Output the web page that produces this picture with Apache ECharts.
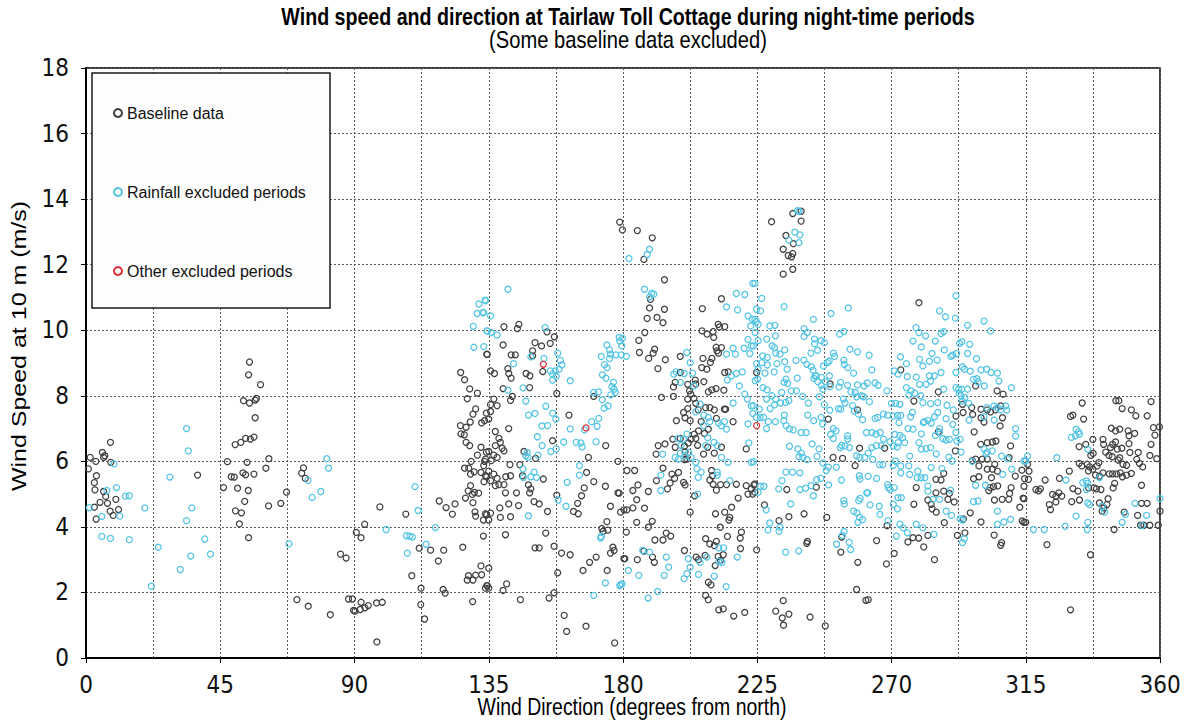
<!DOCTYPE html>
<html>
<head>
<meta charset="utf-8">
<script src="https://cdn.jsdelivr.net/npm/echarts@6/dist/echarts.min.js"></script>
<style>
html,body{margin:0;padding:0;background:#fff;}
#chart{width:1190px;height:721px;}
</style>
</head>
<body>
<div id="chart"></div>
<script>
// Night-time wind observations: [direction (deg from north), speed at 10 m (m/s)]
const seriesNames = ['Baseline data', 'Rainfall excluded periods', 'Other excluded periods'];
const xTicks = [0, 45, 90, 135, 180, 225, 270, 315, 360];
const yTicks = [0, 2, 4, 6, 8, 10, 12, 14, 16, 18];

const baseline = [
[8.2,6.58],[1.4,6.12],[3.3,6.0],[5.5,6.27],[6.3,6.17],[5.9,6.12],[8.3,5.97],[0.8,5.77],[3.5,5.56],[2.8,5.35],[3.0,5.13],[5.9,5.08],[6.6,4.93],[10.0,4.84],[4.7,4.75],[7.2,4.72],[2.8,4.6],[8.1,4.48],[10.9,4.53],[9.1,4.35],[3.4,4.24],[37.4,5.58],
[54.8,9.03],[54.5,8.64],[58.5,8.34],[52.8,7.85],[54.8,7.78],[56.7,7.87],[57.1,7.92],[56.7,7.33],[50.0,6.51],[51.9,6.58],[53.5,6.70],[55.1,6.68],[56.3,6.74],[47.4,5.99],[54.0,5.97],[61.3,6.08],[60.3,5.79],[48.7,5.53],[49.7,5.52],[52.6,5.65],[53.5,5.59],[56.3,5.61],[46.1,5.2],[50.8,5.18],[54.4,5.11],[53.2,4.78],[50.1,4.49],[52.1,4.43],[51.4,4.09],[54.5,3.67],[67.2,5.06],[65.3,4.72],[61.2,4.64],[72.9,5.8],[72.3,5.64],[73.5,5.48],[85.3,3.17],[87.2,3.05],[70.7,1.78],[74.5,1.58],[81.9,1.32],[88.0,1.8],[89.3,1.8],[89.7,1.45],
[90.2,1.43],[92.2,1.70],[91.9,1.48],[93.5,1.53],[94.6,1.6],[97.4,1.68],[99.3,1.70],[97.5,0.49],[112.2,1.63],[113.5,1.19],[112.3,2.13],[119.7,2.09],[120.4,1.98],[129.6,1.72],[90.6,3.83],[92.2,3.67],[93.4,4.08],[98.5,4.61],[107.2,4.39],[111.7,3.35],[115.5,3.29],[118.1,2.96],[119.9,3.29],[109.2,2.51],[118.4,4.79],[120.7,4.59],[123.7,4.70],[122.8,4.39],[126.3,3.38],[127.2,4.88],[128.1,5.10],[128.9,5.26],[129.5,4.99],[130.2,5.05],[131.6,5.03],[129.7,4.74],[130.4,4.46],[130.6,4.33],[133.2,4.21],[134.3,4.37],[133.2,3.72],[127.8,2.38],[128.2,2.51],[129.7,2.38],[130.6,2.53],[132.4,2.81],[132.6,2.54],[133.9,2.13],[134.5,2.21],[125.6,8.71],[126.9,8.49],[128.6,8.21],[127.8,7.91],[131.2,8.08],[130.6,7.6],[129.7,7.44],[128.8,7.2],[125.5,7.09],[127.4,7.04],[125.7,6.84],[126.8,6.81],[127.4,6.58],[128.6,6.48],[132.4,6.43],[131.2,6.19],[129.1,6.0],[133.6,6.0],[132.4,5.66],[126.9,5.79],[128.3,5.79],[128.9,5.61],[130.1,5.68],[134.3,5.53],[133.4,5.38],[132.6,7.17],[133.6,7.24],[134.4,9.26],[134.2,7.47],[134.2,6.28],
[178.9,13.3],[179.8,13.06],[140.1,10.11],[144.6,10.05],[145.1,10.18],[139.8,9.55],[142.5,9.25],[143.9,9.25],[135.6,8.76],[136.9,8.68],[141.4,8.83],[141.7,8.68],[142.5,8.54],[134.4,9.27],[150.5,9.62],[152.7,9.52],[149.7,9.37],[149.7,9.22],[155.6,9.6],[157.0,9.8],[154.5,9.95],[153.1,8.74],[147.5,8.68],[148.8,8.61],[148.7,8.25],[139.8,8.22],[157.8,8.07],[136.7,7.9],[135.6,7.73],[137.8,7.7],[142.3,7.86],[142.9,7.98],[161.9,7.41],[135.6,7.52],[135.0,7.29],[141.7,7.0],[137.2,6.91],[138.4,6.7],[138.9,6.58],[137.2,6.48],[139.5,6.4],[140.1,6.32],[135.0,6.3],[136.7,6.19],[137.8,6.12],[133.9,6.07],[135.8,6.02],[156.4,6.63],[150.7,6.09],[146.8,6.3],[142.1,5.9],[145.4,5.9],[133.3,5.87],[135.0,5.7],[133.9,5.56],[136.7,5.61],[135.6,5.41],[137.8,5.48],[137.2,5.26],[138.4,5.29],[140.1,5.29],[140.7,5.53],[142.3,5.56],[146.3,5.56],[153.3,5.46],[148.3,5.28],[149.1,5.16],[148.7,5.04],[140.6,5.04],[144.3,5.04],[150.2,4.77],[151.9,4.7],[141.7,4.7],[145.0,4.65],[138.7,4.58],[154.7,4.47],[157.8,4.97],[133.9,4.4],[135.6,4.42],[135.0,4.21],[138.9,4.29],[142.3,4.31],[163.4,4.47],[165.0,4.4],[164.8,4.72],[166.1,4.95],[167.0,5.19],[167.8,5.66],[170.2,5.38],[168.4,6.12],[174.2,6.48],[174.1,5.24],[178.3,6.0],[178.3,5.04],[175.8,4.63],[180.3,4.52],[170.2,7.98],[154.1,3.81],[150.5,3.36],[151.9,3.36],[156.9,3.41],[159.4,3.2],[162.3,3.15],[158.1,2.6],[166.6,2.67],[168.8,2.92],[171.0,3.08],[174.7,2.67],[173.3,3.86],[172.9,3.95],[174.9,3.9],[174.6,4.16],[176.6,3.38],[177.0,3.28],[175.8,3.2],[180.6,3.03],[140.6,3.76],[135.0,2.74],[134.4,2.21],[135.0,2.13],[141.0,2.26],[139.8,2.06],[145.6,1.78],[155.2,1.83],[156.9,1.99],[160.3,1.3],[161.1,0.81],[167.6,0.97],[177.2,0.46],
[184.8,13.04],[189.8,12.82],[187.0,12.16],[193.9,11.54],[189.2,10.94],[188.9,10.68],[193.9,10.64],[188.1,10.36],[191.4,10.39],[193.4,10.23],[206.6,10.66],[213.0,10.96],[187.3,9.93],[185.3,9.69],[185.5,9.32],[190.1,9.3],[190.6,9.42],[188.6,9.14],[191.7,8.83],[194.2,9.1],[199.2,9.2],[206.5,9.98],[208.2,9.88],[210.2,9.96],[211.9,10.18],[214.1,10.11],[212.3,10.1],[210.4,9.78],[211.2,9.48],[212.0,9.3],[211.5,9.37],[213.0,9.47],[206.8,9.14],[209.8,9.14],[209.3,9.02],[206.4,8.86],[208.1,8.81],[199.2,8.71],[214.1,8.71],[215.3,8.73],[197.5,8.41],[196.9,8.27],[201.7,8.35],[204.2,8.48],[204.4,8.36],[207.1,8.43],[211.2,8.22],[213.8,8.17],[209.8,8.18],[208.6,8.12],[202.3,8.15],[202.7,8.05],[201.7,7.9],[203.8,7.92],[204.4,7.77],[192.9,7.95],[196.9,7.98],[205.2,7.57],[207.7,7.64],[209.1,7.64],[210.6,7.57],[214.0,7.59],[214.4,7.59],[200.3,7.49],[201.7,7.61],[200.8,7.33],[197.9,7.24],[202.5,7.24],[206.2,7.21],[205.3,6.93],[207.3,6.85],[208.6,6.98],[211.3,7.31],[216.9,7.21],[203.9,6.83],[204.4,6.7],[202.8,6.68],[205.0,6.49],[201.9,6.56],[200.6,6.46],[200.8,6.29],[196.7,6.68],[199.2,6.7],[197.5,6.43],[194.1,6.53],[191.8,6.48],[191.1,6.22],[213.0,6.43],[210.6,6.25],[208.4,6.43],[207.0,6.22],[221.3,6.38],[200.6,6.05],[201.4,6.07],[181.3,5.72],[183.9,5.72],[193.4,5.79],[196.4,5.61],[198.6,5.66],[197.3,5.48],[195.8,5.34],[194.9,5.16],[191.2,5.41],[185.0,5.28],[183.3,5.11],[178.7,5.03],[184.6,4.83],[188.5,5.08],[200.3,5.36],[200.8,5.28],[204.0,4.95],[209.7,5.72],[210.0,5.56],[209.1,5.43],[210.2,5.3],[211.3,5.12],[212.7,5.29],[214.7,5.29],[218.0,5.3],[221.3,5.26],[223.0,5.16],[223.9,5.28],[221.9,5.0],[223.5,5.0],[218.6,4.88],[216.4,4.6],[214.1,4.45],[211.0,4.4],[202.5,4.45],[181.3,4.52],[183.3,4.58],[187.2,4.57],[179.2,4.45],[184.6,4.14],[188.5,3.99],[189.8,4.17],[215.8,4.29],[215.5,4.21],[212.6,3.99],[181.1,3.84],[194.5,3.81],[196.0,3.72],[193.4,3.6],[190.7,3.6],[219.7,3.84],[219.3,3.66],[215.0,3.71],[207.7,3.64],[211.3,3.56],[209.1,3.48],[210.6,3.43],[200.6,3.28],[187.0,3.26],[184.8,3.0],[180.3,3.03],[189.9,3.08],[190.5,2.92],[204.5,3.08],[205.3,3.0],[207.5,3.13],[211.9,3.1],[213.6,3.15],[212.7,2.98],[219.4,3.34],[210.9,2.82],[208.6,2.31],[209.5,2.23],[207.7,1.91],[208.6,1.78],[212.1,1.47],[213.6,1.5],[217.1,1.28],[220.8,1.39],
[229.8,13.31],[236.9,13.56],[239.7,13.63],[239.7,13.33],[234.6,12.89],[237.1,12.64],[233.7,12.47],[235.4,12.28],[236.5,12.24],[236.9,12.34],[233.7,11.71],[236.9,11.86],[224.8,8.71],[249.4,8.36],[248.8,7.29],[258.6,7.57],[259.3,6.4],[267.7,6.4],[250.4,6.12],[253.6,6.09],[257.8,5.87],[224.2,5.31],[224.2,5.06],[227.4,4.67],[234.9,5.14],[244.8,5.21],[232.3,4.19],[235.6,4.31],[240.7,4.4],[248.3,4.29],[241.8,3.56],[241.6,3.5],[253.0,3.23],[253.3,3.69],[258.7,2.92],[265.0,3.58],[268.3,2.87],[268.5,4.04],[224.8,3.3],[258.3,2.09],[261.4,1.76],[262.2,1.78],[233.7,1.75],[231.2,1.43],[235.6,1.34],[233.4,1.22],[233.8,1.0],[242.7,1.25],[247.8,0.98],
[279.2,10.84],[273.1,8.79],[285.7,8.12],[277.5,7.84],[298.2,8.3],[305.4,8.15],[307.4,8.05],[293.8,7.74],[291.6,7.38],[294.0,7.49],[296.9,7.64],[297.2,7.43],[300.0,7.59],[300.0,7.33],[301.0,7.2],[302.1,7.57],[303.2,7.51],[304.9,7.57],[306.6,7.69],[307.2,7.33],[306.4,7.08],[297.7,6.9],[299.9,6.52],[302.1,6.57],[303.8,6.59],[305.0,6.62],[309.9,6.47],[309.4,6.11],[285.7,6.9],[291.4,6.32],[297.1,6.02],[298.2,6.07],[299.3,5.86],[300.4,6.07],[302.1,6.07],[302.1,5.76],[303.8,5.76],[304.6,5.91],[305.5,5.7],[303.5,5.5],[297.5,5.47],[299.3,5.53],[303.1,5.2],[304.2,5.23],[305.6,5.25],[302.6,5.11],[304.5,4.82],[307.1,4.84],[309.3,4.84],[309.6,5.02],[310.1,5.2],[311.5,5.55],[313.7,5.73],[314.6,5.47],[314.1,4.88],[313.0,4.6],[313.8,4.18],[300.0,4.15],[304.4,3.75],[306.9,3.52],[306.6,3.44],[284.9,5.45],[286.6,5.43],[287.5,5.63],[278.3,5.2],[284.9,5.04],[287.5,5.09],[289.4,5.02],[288.9,4.84],[291.0,4.76],[282.2,4.82],[283.3,4.69],[283.6,4.55],[285.0,4.45],[277.5,4.69],[296.4,4.43],[294.1,4.24],[287.7,4.13],[292.1,3.74],[294.6,3.82],[282.2,3.74],[275.5,3.54],[277.2,3.67],[279.1,3.66],[280.8,3.39],[284.4,3.0],[270.9,3.19],
[333.9,7.78],[345.2,7.85],[346.2,7.85],[357.0,7.82],[330.0,7.37],[330.8,7.41],[334.4,7.29],[347.3,7.61],[350.4,7.57],[351.9,7.39],[355.7,7.39],[343.7,7.01],[345.1,6.93],[346.5,6.98],[349.3,6.93],[349.6,6.78],[351.5,6.85],[358.3,6.8],[357.8,7.03],[359.8,7.05],[337.5,6.67],[340.9,6.67],[341.1,6.52],[344.1,6.52],[345.1,6.59],[343.4,6.42],[345.7,6.37],[347.2,6.4],[349.6,6.54],[357.0,6.52],[332.9,6.45],[335.1,6.52],[336.8,6.18],[337.6,6.24],[341.8,6.28],[342.9,6.18],[344.0,6.14],[346.0,6.04],[346.5,6.11],[347.6,5.91],[348.8,5.88],[349.9,6.27],[352.7,6.27],[356.6,6.18],[358.9,6.08],[352.2,6.06],[353.1,5.94],[354.2,5.83],[332.9,5.94],[333.8,5.86],[335.6,5.91],[336.4,5.83],[337.5,5.76],[338.9,5.86],[339.5,5.96],[336.0,5.71],[338.4,5.58],[339.7,5.55],[340.9,5.65],[343.0,5.62],[344.1,5.62],[345.4,5.62],[346.7,5.65],[347.4,5.53],[348.8,5.58],[350.4,5.63],[344.8,5.33],[344.3,5.19],[338.7,5.16],[340.2,5.14],[337.9,5.19],[336.1,5.19],[332.5,5.09],[330.8,5.17],[329.6,5.7],[326.3,5.48],[321.5,5.43],[318.4,5.14],[319.3,5.1],[326.1,5.04],[324.0,4.99],[325.1,4.94],[327.1,4.94],[353.8,5.27],[325.1,4.76],[322.9,4.68],[323.3,4.53],[330.4,4.77],[333.0,4.82],[339.7,4.73],[342.6,4.86],[342.2,4.68],[341.2,4.58],[340.6,4.48],[348.0,4.45],[353.8,4.72],[355.7,4.72],[360.0,4.48],[352.5,4.35],[353.5,4.05],[354.6,4.05],[356.6,4.05],[359.4,4.05],[344.6,3.92],[314.4,4.14],[315.0,4.14],[322.1,3.46],[336.7,3.15],[330.0,1.47],[316.1,5.7],[315.6,5.91],[314.4,5.24],[319.9,5.16],[314.4,4.86],[315.9,5.45]
];

const rainfall = [
[9.4,5.92],[7.0,5.11],[10.2,5.2],[13.2,4.94],[14.5,4.95],[1.1,4.59],[5.3,4.32],[11.3,4.33],[19.7,4.58],[5.3,3.71],[8.2,3.65],[14.5,3.61],[33.7,7.0],[34.3,6.32],[28.1,5.52],[35.5,4.58],[33.7,4.19],[39.8,3.63],[24.2,3.38],[35.1,3.11],[41.7,3.17],[31.6,2.70],[21.9,2.19],
[80.7,6.08],[81.3,5.79],[74.4,5.42],[78.7,5.08],[75.8,4.9],[68.0,3.48],
[110.3,5.23],[111.3,4.5],[117.1,3.98],[100.6,3.92],[107.4,3.73],[108.5,3.72],[109.4,3.69],[114.0,3.47],[107.7,3.2],[131.7,10.8],[131.1,10.51],[133.0,10.54],[133.8,10.92],[129.8,10.12],[134.4,9.98],[130.0,9.48],[133.3,9.5],
[141.4,11.25],[133.9,10.9],[133.3,10.54],[135.6,10.44],[134.5,9.98],[135.8,9.93],[137.8,9.85],[143.3,8.98],[153.9,10.08],[149.1,9.19],[153.5,9.14],[155.6,8.76],[156.4,8.66],[157.3,8.76],[158.1,9.3],[159.0,9.08],[159.5,8.94],[158.6,8.81],[156.4,8.48],[157.6,8.59],[162.3,8.46],[146.5,8.24],[141.4,8.17],[147.4,7.84],[154.1,7.68],[148.3,7.41],[150.5,7.46],[156.4,7.47],[157.5,7.29],[152.8,7.08],[154.7,7.09],[151.3,6.75],[152.9,6.48],[155.8,6.3],[157.6,6.38],[160.1,6.59],[162.3,6.99],[147.9,6.27],[147.4,6.17],[151.5,6.19],[148.2,6.12],[146.5,5.77],[150.2,5.67],[149.1,5.53],[151.0,5.51],[146.6,5.51],[158.3,4.82],[160.9,4.63],[148.3,4.34],[165.4,5.87],[165.4,5.58],[161.3,5.36],[171.0,6.6],[169.5,7.21],[167.1,6.96],[164.3,6.58],[165.9,6.56],[166.3,6.44],[171.9,7.31],[171.3,7.07],[170.2,8.1],[171.8,8.12],[173.1,7.88],[173.7,7.62],[175.0,7.69],[175.9,8.03],[177.0,8.2],[176.8,8.41],[176.3,8.28],[173.1,8.64],[174.3,8.54],[173.8,8.95],[174.7,8.86],[172.7,9.2],[174.6,9.55],[175.5,9.4],[175.8,9.27],[175.5,9.14],[177.6,9.25],[179.4,9.25],[178.9,9.67],[179.8,9.76],[177.4,8.1],[172.7,3.71],[172.5,3.66],[174.1,2.29],[170.2,1.91],[178.9,2.21],[179.7,2.26],
[188.9,12.47],[188.1,12.31],[182.0,12.19],[187.2,11.25],[188.9,11.02],[189.6,11.12],[190.3,11.1],[214.7,10.71],[218.0,11.12],[220.8,11.09],[223.5,11.43],[218.4,10.62],[221.9,10.44],[223.3,10.34],[201.4,9.32],[202.5,9.01],[214.7,9.27],[216.9,9.45],[217.7,9.27],[220.6,9.45],[221.9,9.72],[223.0,9.52],[222.5,9.29],[224.3,9.93],[222.8,10.13],[224.7,10.26],[178.7,9.78],[179.6,9.52],[181.1,9.2],[197.0,8.66],[197.8,8.73],[200.5,8.68],[203.3,8.69],[199.2,8.41],[203.8,8.3],[218.0,8.68],[220.0,8.73],[216.3,8.61],[215.0,8.48],[219.0,8.3],[224.3,8.46],[220.8,8.05],[221.7,7.9],[223.0,7.69],[223.5,7.46],[224.7,7.34],[216.9,7.78],[221.9,7.14],[205.8,7.75],[204.4,7.51],[207.1,7.41],[208.6,7.34],[209.1,7.21],[207.0,7.09],[212.0,7.17],[214.0,7.21],[214.7,6.98],[212.9,7.09],[208.4,6.72],[207.7,6.48],[210.5,6.58],[211.6,6.48],[201.4,6.83],[200.3,6.68],[198.4,6.7],[199.5,6.49],[202.0,6.27],[199.2,6.25],[197.5,6.12],[198.6,6.07],[202.8,6.12],[200.8,6.17],[213.0,6.12],[215.2,5.97],[204.4,5.97],[204.8,5.77],[206.2,5.67],[205.2,5.51],[193.3,6.22],[192.7,5.58],[211.6,5.67],[211.6,5.58],[222.2,6.56],[223.0,5.97],[215.8,5.41],[192.7,5.11],[205.0,5.0],[186.6,3.28],[188.9,3.23],[194.5,3.08],[195.3,2.77],[193.8,2.52],[181.8,2.67],[185.3,2.52],[201.4,2.57],[200.5,2.42],[202.5,2.77],[201.9,3.03],[205.8,2.92],[208.1,3.08],[212.1,2.95],[213.2,2.92],[212.1,3.36],[213.7,3.36],[218.3,3.08],[205.3,2.55],[210.6,2.5],[214.6,2.18],[191.6,2.03],[188.4,1.83],[179.2,2.24],
[238.5,13.65],[239.0,13.63],[237.6,12.99],[239.3,12.91],[235.6,12.75],[239.0,12.67],[226.5,10.97],[234.0,10.72],[255.5,10.68],[249.7,10.51],[224.2,11.43],[243.8,10.33],[224.8,10.64],[226.1,10.59],[224.2,10.33],[225.3,10.18],[229.2,10.13],[230.9,10.15],[240.7,10.05],[241.8,9.93],[240.7,9.81],[252.6,9.88],[254.0,9.96],[231.1,9.83],[228.2,9.73],[225.3,9.68],[223.7,9.52],[244.2,9.73],[244.2,9.59],[246.4,9.68],[247.5,9.62],[230.0,9.52],[230.8,9.47],[234.2,9.4],[231.2,9.3],[232.6,9.27],[226.8,9.22],[228.4,9.17],[243.0,9.3],[245.2,9.39],[250.5,9.3],[250.9,9.2],[256.1,9.42],[258.6,9.34],[262.5,9.24],[224.8,8.98],[226.5,9.01],[228.4,8.94],[231.6,8.98],[234.2,9.04],[235.0,8.81],[238.0,9.08],[240.6,9.09],[241.6,8.96],[243.1,8.89],[243.7,8.78],[244.4,8.61],[247.2,8.91],[248.5,9.01],[249.1,9.06],[254.0,9.09],[254.2,8.96],[255.3,8.86],[257.3,8.69],[263.4,8.79],[225.3,8.81],[227.6,8.69],[230.7,8.73],[225.1,8.51],[226.9,8.25],[228.3,8.18],[234.6,8.51],[235.2,8.38],[234.0,8.41],[238.4,8.54],[236.4,8.15],[238.1,8.15],[244.0,8.53],[244.8,8.61],[245.3,8.43],[246.5,8.56],[246.5,8.32],[247.8,8.43],[249.2,8.61],[247.0,8.2],[249.4,8.28],[252.4,8.27],[252.9,8.41],[255.3,8.32],[256.4,8.12],[258.6,8.33],[260.8,8.3],[261.9,8.39],[264.5,8.39],[265.5,8.32],[268.5,8.15],[229.9,8.0],[231.2,7.9],[233.2,8.1],[234.5,7.8],[235.6,7.85],[232.8,7.78],[230.8,7.72],[229.3,7.61],[228.1,7.9],[223.7,7.7],[225.7,7.59],[240.2,7.98],[242.1,7.78],[245.8,7.97],[247.5,7.73],[249.3,7.56],[252.2,7.61],[253.0,7.59],[253.9,7.9],[254.4,7.78],[257.8,8.1],[258.3,7.97],[260.0,8.0],[260.6,7.97],[262.6,7.82],[256.9,7.7],[257.5,7.54],[258.9,7.44],[260.3,7.27],[264.5,7.31],[265.4,7.34],[267.3,7.44],[268.7,7.41],[226.0,7.34],[227.1,7.34],[228.7,7.21],[228.1,7.0],[231.1,7.21],[234.1,7.41],[233.9,7.24],[234.7,7.09],[235.8,6.99],[237.1,6.96],[239.7,6.88],[241.4,6.88],[241.9,7.41],[243.9,7.24],[246.4,7.34],[246.9,7.14],[250.5,7.0],[251.4,6.93],[249.6,6.82],[250.5,6.7],[253.3,6.49],[254.4,6.47],[252.8,6.42],[255.9,6.42],[255.3,6.78],[255.3,6.68],[258.3,6.17],[259.4,6.12],[261.0,6.12],[262.2,6.25],[263.4,6.42],[264.9,6.48],[266.6,6.48],[263.7,6.06],[261.6,6.88],[263.5,6.88],[264.8,6.83],[266.2,6.88],[267.3,6.68],[269.5,6.6],[235.8,6.46],[238.6,6.38],[239.8,6.25],[239.0,6.14],[240.3,6.12],[241.7,6.05],[243.4,6.53],[245.7,6.38],[245.0,6.15],[247.0,5.95],[248.1,5.72],[248.8,5.82],[251.5,5.82],[253.2,5.43],[248.9,5.28],[254.0,4.8],[259.2,5.56],[259.4,5.46],[262.2,5.54],[265.0,5.48],[266.0,5.9],[267.1,5.9],[268.7,5.29],[269.6,5.14],[223.7,5.99],[226.1,5.24],[227.2,5.24],[225.3,5.06],[232.2,5.16],[233.3,5.41],[234.6,5.67],[236.8,5.67],[239.3,5.65],[239.3,5.14],[241.2,5.18],[243.8,4.95],[243.1,5.26],[244.9,5.44],[246.3,5.48],[236.2,4.7],[228.0,4.52],[229.2,4.12],[228.6,3.91],[232.3,3.87],[232.6,3.99],[234.5,3.23],[238.9,3.27],[254.1,3.86],[253.5,3.74],[251.6,3.47],[255.8,3.53],[256.3,3.31],[254.2,4.7],[257.3,4.48],[258.4,4.43],[259.3,4.29],[258.7,4.14],[260.3,4.22],[262.8,4.67],[265.9,4.63],[266.1,4.38],[268.8,4.19],[259.0,4.8],[259.5,4.87],[261.7,5.04],[262.0,5.04],
[291.6,11.05],[286.1,10.59],[288.1,10.41],[291.4,10.37],[295.5,10.15],[301.0,10.28],[303.2,9.98],[278.2,10.08],[279.2,9.93],[281.4,9.83],[286.6,9.9],[287.5,9.96],[277.2,9.67],[280.0,9.49],[284.7,9.67],[292.8,9.6],[293.6,9.65],[296.2,9.57],[273.0,9.19],[275.0,8.98],[279.4,9.11],[280.5,8.91],[282.7,9.05],[283.6,9.29],[285.3,9.09],[287.7,9.4],[289.9,9.2],[290.5,9.24],[291.8,9.29],[295.5,9.29],[298.5,9.13],[293.8,8.88],[294.4,8.81],[296.4,8.75],[300.0,8.79],[301.9,8.81],[303.4,8.71],[305.5,8.69],[270.9,8.76],[272.2,8.66],[275.3,8.59],[278.3,8.57],[282.7,8.61],[284.4,8.61],[286.6,8.71],[291.6,8.71],[279.4,8.35],[281.6,8.35],[283.1,8.45],[287.5,8.2],[291.6,8.25],[292.5,8.2],[293.5,8.2],[295.5,8.2],[297.5,8.5],[298.6,8.52],[299.0,8.42],[301.1,8.3],[306.0,8.45],[310.2,8.25],[275.0,8.25],[276.6,8.15],[277.8,8.08],[279.8,8.0],[275.8,8.02],[271.4,7.77],[272.8,7.74],[270.0,7.77],[280.5,7.79],[283.1,7.76],[285.5,7.79],[285.5,7.49],[284.4,7.36],[288.6,7.71],[290.7,7.57],[292.7,8.07],[293.3,8.0],[294.6,7.94],[293.8,7.84],[295.9,7.77],[301.9,7.64],[304.3,7.69],[305.5,7.64],[306.6,7.57],[308.3,7.69],[308.6,7.56],[296.0,7.26],[301.0,7.36],[304.4,7.26],[270.6,7.38],[272.0,7.4],[273.1,7.4],[272.5,7.18],[277.0,7.49],[276.4,7.36],[280.7,7.18],[282.2,7.25],[283.3,7.16],[281.0,7.21],[288.3,7.3],[290.5,7.13],[286.1,7.0],[275.5,7.0],[277.2,6.98],[280.0,6.84],[284.7,6.79],[286.1,6.89],[287.2,6.69],[288.3,6.65],[289.4,6.67],[291.6,6.88],[293.0,6.67],[291.9,6.62],[271.1,6.82],[272.8,6.79],[273.7,6.72],[274.4,6.57],[272.2,6.57],[270.6,6.47],[271.9,6.44],[279.2,6.57],[276.1,6.16],[280.0,6.37],[281.6,6.39],[283.1,6.42],[285.0,6.23],[289.2,6.13],[290.3,6.01],[293.3,6.28],[301.0,6.39],[301.7,6.23],[302.1,6.28],[303.8,6.32],[306.9,6.16],[308.9,6.08],[311.6,7.0],[311.6,6.77],[314.4,6.01],[310.3,5.76],[271.3,6.01],[270.6,5.88],[273.1,5.86],[273.1,5.65],[275.8,5.86],[276.1,5.6],[278.8,5.7],[279.9,5.5],[281.2,5.5],[278.6,5.5],[283.3,5.81],[286.9,5.78],[297.1,6.0],[298.2,5.27],[301.5,5.27],[307.3,5.6],[268.9,5.2],[270.9,5.2],[272.2,4.89],[273.3,4.89],[270.6,4.69],[272.0,4.55],[282.2,5.25],[282.2,5.09],[283.9,4.84],[286.1,4.84],[289.8,5.12],[288.3,4.48],[290.1,4.35],[293.0,4.25],[293.8,4.21],[294.4,3.64],[293.8,3.52],[297.5,4.77],[299.0,4.79],[305.5,4.48],[307.7,4.15],[309.9,4.23],[305.5,4.08],[272.8,4.08],[273.9,3.97],[275.3,3.82],[278.3,4.08],[280.5,3.97],[284.2,3.77],[271.6,3.72],
[331.9,6.98],[332.7,6.9],[330.3,6.73],[331.6,6.78],[333.0,6.83],[315.6,6.16],[315.0,6.01],[325.4,6.11],[335.8,6.37],[335.3,5.4],[334.1,5.35],[335.8,5.33],[328.5,5.43],[335.3,5.14],[335.8,4.73],[336.4,4.68],[339.7,5.5],[340.6,4.63],[341.4,4.45],[335.8,4.14],[335.6,3.92],[331.9,4.33],[328.2,4.02],[317.6,3.92],[321.2,3.92],[351.6,4.72],[348.4,4.38],[347.3,4.14],[355.5,4.35],[354.0,4.04],[360.0,4.86]
];

const other = [[153.3,8.96],[167.6,7.02],[224.8,7.09]];

const FONT = '"Liberation Sans", Arial, sans-serif';
const NARROW = '"Liberation Sans Narrow", "Arial Narrow", "DejaVu Sans Condensed", "Liberation Sans", sans-serif';
const gridLine = { color: '#5a5a5a', width: 1, type: [2, 2] };

const chart = echarts.init(document.getElementById('chart'), null, { renderer: 'svg' });

function scatter(name, data, stroke) {
  return {
    name: name,
    type: 'scatter',
    data: data,
    symbol: 'circle',
    symbolSize: 6,
    itemStyle: { color: 'rgba(255,255,255,0)', borderColor: stroke, borderWidth: 1.25, opacity: 1 },
    emphasis: { disabled: true },
    animation: false
  };
}

// Headings and axis titles use a horizontally condensed sans face
function heading(text, x, y, font, scaleX, extra) {
  return Object.assign({
    type: 'text', x: x, y: y, z: 10, scaleX: scaleX,
    style: { text: text, font: font, fill: '#000', textAlign: 'center', textVerticalAlign: 'middle' }
  }, extra || {});
}

chart.setOption({
  backgroundColor: '#ffffff',
  animation: false,
  grid: { left: 86, right: 30, top: 68, bottom: 63, show: true, borderColor: '#000', borderWidth: 1.5, backgroundColor: 'transparent' },
  graphic: [
    heading('Wind speed and direction at Tairlaw Toll Cottage during night-time periods', 628, 17, 'bold 24px ' + FONT, 0.818),
    heading('(Some baseline data excluded)', 628, 40, '24px ' + FONT, 0.84),
    heading('Wind Direction (degrees from north)', 632, 707, '24px ' + FONT, 0.81),
    { type: 'text', x: 19, y: 346, z: 10, rotation: Math.PI / 2, scaleY: 0.8,
      style: { text: 'Wind Speed at 10 m (m/s)', font: '25px ' + FONT, fill: '#000', textAlign: 'center', textVerticalAlign: 'middle' } },
    { type: 'rect', z: 3, shape: { x: 92, y: 73, width: 238, height: 235 }, style: { fill: '#fdfdfd', stroke: '#1a1a1a', lineWidth: 1.5 } }
  ],
  legend: {
    data: seriesNames,
    orient: 'vertical',
    left: 108,
    top: 100,
    itemGap: 63,
    itemWidth: 8,
    itemHeight: 8,
    z: 5,
    selectedMode: false,
    textStyle: { fontFamily: FONT, fontSize: 16, color: '#111' }
  },
  xAxis: {
    type: 'value', min: 0, max: 360, interval: 45,
    axisLine: { show: true, onZero: false, lineStyle: { color: '#000', width: 2 } },
    axisTick: { show: true, length: 5, lineStyle: { color: '#000' } },
    axisLabel: { fontFamily: NARROW, fontSize: 24, color: '#111', margin: 15, customValues: xTicks },
    splitLine: { show: true, lineStyle: gridLine },
    minorTick: { show: false, splitNumber: 2 },
    minorSplitLine: { show: true, lineStyle: gridLine }
  },
  yAxis: {
    type: 'value', min: 0, max: 18, interval: 2,
    axisLine: { show: true, onZero: false, lineStyle: { color: '#000', width: 2 } },
    axisTick: { show: true, length: 5, lineStyle: { color: '#000' } },
    axisLabel: { fontFamily: NARROW, fontSize: 24, color: '#111', margin: 17, customValues: yTicks },
    splitLine: { show: true, lineStyle: gridLine }
  },
  series: [
    scatter(seriesNames[0], baseline, '#3f3f3f'),
    scatter(seriesNames[1], rainfall, '#52c4e4'),
    scatter(seriesNames[2], other, '#e0303a')
  ]
});
</script>
</body>
</html>
